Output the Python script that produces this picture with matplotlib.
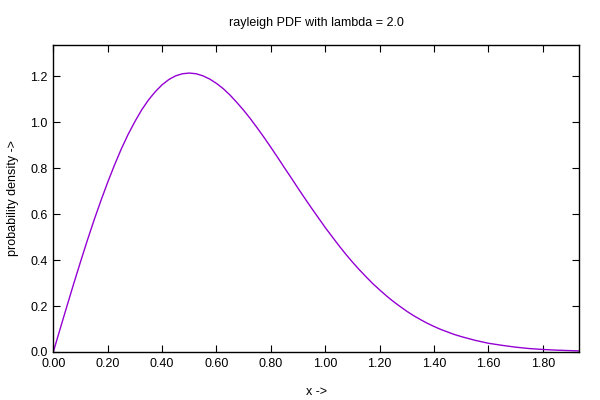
import numpy as np
import matplotlib
matplotlib.use("Agg")
import matplotlib.pyplot as plt
import matplotlib.ticker as ticker

# ── Data ──────────────────────────────────────────────────────────────────────
x_vals = [0.000, 0.025, 0.050, 0.075, 0.100, 0.125, 0.150, 0.175, 0.200, 0.225,
          0.250, 0.275, 0.300, 0.325, 0.350, 0.375, 0.400, 0.425, 0.450, 0.475,
          0.500, 0.525, 0.550, 0.575, 0.600, 0.625, 0.650, 0.675, 0.700, 0.725,
          0.750, 0.775, 0.800, 0.825, 0.850, 0.875, 0.900, 0.925, 0.950, 0.975,
          1.000, 1.025, 1.050, 1.075, 1.100, 1.125, 1.150, 1.175, 1.200, 1.225,
          1.250, 1.275, 1.300, 1.325, 1.350, 1.375, 1.400, 1.425, 1.450, 1.475,
          1.500, 1.550, 1.600, 1.650, 1.700, 1.750, 1.800, 1.850, 1.900, 1.950]
pdf_vals = [0.000, 0.100, 0.199, 0.297, 0.392, 0.485, 0.574, 0.658, 0.738, 0.813,
            0.883, 0.946, 1.002, 1.053, 1.096, 1.132, 1.162, 1.185, 1.201, 1.210,
            1.213, 1.210, 1.201, 1.187, 1.168, 1.145, 1.117, 1.085, 1.051, 1.014,
            0.974, 0.933, 0.890, 0.846, 0.801, 0.757, 0.712, 0.668, 0.625, 0.583,
            0.541, 0.502, 0.463, 0.426, 0.391, 0.358, 0.327, 0.297, 0.270, 0.244,
            0.220, 0.198, 0.177, 0.158, 0.141, 0.125, 0.111, 0.098, 0.087, 0.076,
            0.067, 0.051, 0.038, 0.029, 0.021, 0.015, 0.011, 0.008, 0.006, 0.004]

x_ticks = [0.00, 0.20, 0.40, 0.60, 0.80, 1.00, 1.20, 1.40, 1.60, 1.80]
y_ticks = [0.0, 0.2, 0.4, 0.6, 0.8, 1.0, 1.2]

plt.rcParams["font.family"] = ["Liberation Sans", "DejaVu Sans"]
plt.rcParams["font.size"] = 9

fig = plt.figure(figsize=(6, 4), dpi=100)
ax = fig.add_axes([53.3 / 600, 1 - 352 / 400, (579 - 53.3) / 600, (352 - 45) / 400])

ax.plot(x_vals, pdf_vals, color="#9400d3", linewidth=1.0)

ax.set_xlim(0, 1.933)
ax.set_ylim(0, 1.335)
ax.set_xticks(x_ticks)
ax.set_yticks(y_ticks)
ax.xaxis.set_major_formatter(ticker.FormatStrFormatter("%.2f"))
ax.yaxis.set_major_formatter(ticker.FormatStrFormatter("%.1f"))
ax.tick_params(direction="in", length=5, width=0.8, top=True, right=True,
               labelsize=9, pad=4, colors="black")
for spine in ax.spines.values():
    spine.set_linewidth(1.0)

ax.set_title("rayleigh PDF with lambda = 2.0", fontsize=9, pad=14)
ax.set_xlabel("x ->", fontsize=9, labelpad=12)
ax.set_ylabel("probability density ->", fontsize=9, labelpad=8)

fig.savefig("out.png", dpi=100)
plt.close(fig)
